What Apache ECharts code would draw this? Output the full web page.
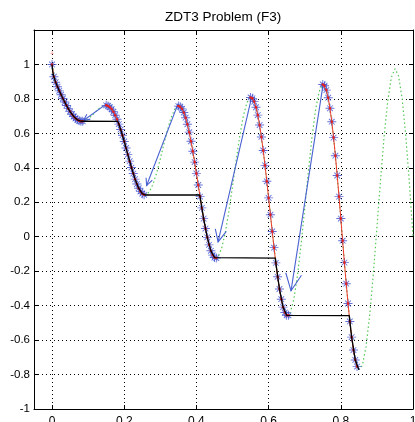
<!DOCTYPE html>
<html>
<head>
<meta charset="utf-8">
<title>ZDT3 Problem (F3)</title>
<script src="https://cdn.jsdelivr.net/npm/echarts@6/dist/echarts.min.js"></script>
<style>
    html, body { margin: 0; padding: 0; background: #fff; }
    #chart { width: 415px; height: 422px; }
</style>
</head>
<body>
<div id="chart"></div>
<script>
    // ZDT3 curve (green dotted), sampled every 0.01
    var curveX = [0, 0.01, 0.02, 0.03, 0.04, 0.05, 0.06, 0.07, 0.08, 0.09,
        0.1, 0.11, 0.12, 0.13, 0.14, 0.15, 0.16, 0.17, 0.18, 0.19,
        0.2, 0.21, 0.22, 0.23, 0.24, 0.25, 0.26, 0.27, 0.28, 0.29,
        0.3, 0.31, 0.32, 0.33, 0.34, 0.35, 0.36, 0.37, 0.38, 0.39,
        0.4, 0.41, 0.42, 0.43, 0.44, 0.45, 0.46, 0.47, 0.48, 0.49,
        0.5, 0.51, 0.52, 0.53, 0.54, 0.55, 0.56, 0.57, 0.58, 0.59,
        0.6, 0.61, 0.62, 0.63, 0.64, 0.65, 0.66, 0.67, 0.68, 0.69,
        0.7, 0.71, 0.72, 0.73, 0.74, 0.75, 0.76, 0.77, 0.78, 0.79,
        0.8, 0.81, 0.82, 0.83, 0.84, 0.85, 0.86, 0.87, 0.88, 0.89,
        0.9, 0.91, 0.92, 0.93, 0.94, 0.95, 0.96, 0.97, 0.98, 0.99, 1];
    var curveY = [1, 0.8969, 0.8468, 0.8025, 0.7620, 0.7264, 0.6980, 0.6788, 0.6702, 0.6722,
        0.6838, 0.7023, 0.7241, 0.7446, 0.7590, 0.7627, 0.7522, 0.7252, 0.6815, 0.6228,
        0.5528, 0.4768, 0.4017, 0.3343, 0.2818, 0.25, 0.2428, 0.2620, 0.3062, 0.3719,
        0.4523, 0.5390, 0.6224, 0.6925, 0.7403, 0.7584, 0.7424, 0.6910, 0.6070, 0.4960,
        0.3675, 0.2330, 0.1050, -0.0036, -0.0818, -0.1208, -0.1157, -0.0658, 0.0251, 0.1486,
        0.2929, 0.4435, 0.5846, 0.7008, 0.7788, 0.8084, 0.7843, 0.7061, 0.5793, 0.4142,
        0.2254, 0.0305, -0.1518, -0.3034, -0.4087, -0.4562, -0.4401, -0.3605, -0.2243, -0.0439,
        0.1633, 0.3768, 0.5747, 0.7362, 0.8436, 0.8840, 0.8510, 0.7454, 0.5753, 0.3553,
        0.1056, -0.1503, -0.3875, -0.5825, -0.7154, -0.7720, -0.7453, -0.6365, -0.4554, -0.2184,
        0.0513, 0.3273, 0.5816, 0.7880, 0.9245, 0.9753, 0.9333, 0.7998, 0.5861, 0.3109, 0];

    // solutions (blue stars, joined by the red line), one array per branch
    var solX1 = [0, 0.005, 0.01, 0.015, 0.02, 0.025, 0.03, 0.035, 0.04, 0.045, 0.05, 0.055, 0.06, 0.065, 0.07, 0.075, 0.08, 0.085];
    var solY1 = [1, 0.9285, 0.8969, 0.8707, 0.8468, 0.8242, 0.8025, 0.7817, 0.7620, 0.7435, 0.7264, 0.7112, 0.6980, 0.6871, 0.6788, 0.6731, 0.6702, 0.6699];
    var solX2 = [0.15, 0.155, 0.16, 0.165, 0.17, 0.175, 0.18, 0.185, 0.19, 0.195, 0.2, 0.205, 0.21, 0.215, 0.22, 0.225, 0.23, 0.235, 0.24, 0.245, 0.25, 0.255];
    var solY2 = [0.7627, 0.7594, 0.7522, 0.7408, 0.7252, 0.7054, 0.6815, 0.6539, 0.6228, 0.5889, 0.5528, 0.5151, 0.4768, 0.4387, 0.4017, 0.3666, 0.3343, 0.3058, 0.2818, 0.2630, 0.25, 0.2431];
    var solX3 = [0.35, 0.355, 0.36, 0.365, 0.37, 0.375, 0.38, 0.385, 0.39, 0.395, 0.4, 0.405, 0.41, 0.415, 0.42, 0.425, 0.43, 0.435, 0.44, 0.445, 0.45, 0.455];
    var solY3 = [0.7584, 0.7548, 0.7424, 0.7210, 0.6910, 0.6528, 0.6070, 0.5543, 0.4960, 0.4333, 0.3675, 0.3003, 0.2330, 0.1674, 0.1050, 0.0476, -0.0036, -0.0471, -0.0818, -0.1066, -0.1208, -0.1239];
    var solX4 = [0.55, 0.555, 0.56, 0.565, 0.57, 0.575, 0.58, 0.585, 0.59, 0.595, 0.6, 0.605, 0.61, 0.615, 0.62, 0.625, 0.63, 0.635, 0.64, 0.645, 0.65, 0.655];
    var solY4 = [0.8084, 0.8032, 0.7843, 0.7517, 0.7061, 0.6483, 0.5793, 0.5007, 0.4142, 0.3217, 0.2254, 0.1276, 0.0305, -0.0634, -0.1518, -0.2325, -0.3034, -0.3627, -0.4087, -0.4402, -0.4562, -0.4562];
    var solX5 = [0.75, 0.755, 0.76, 0.765, 0.77, 0.775, 0.78, 0.785, 0.79, 0.795, 0.8, 0.805, 0.81, 0.815, 0.82, 0.825, 0.83, 0.835, 0.84, 0.845];
    var solY5 = [0.8840, 0.8768, 0.8510, 0.8070, 0.7454, 0.6677, 0.5753, 0.4704, 0.3553, 0.2327, 0.1056, -0.0231, -0.1503, -0.2728, -0.3875, -0.4917, -0.5825, -0.6578, -0.7154, -0.7538];

    // Pareto front with its horizontal steps (black)
    var frontX = [0, 0.002, 0.005, 0.01, 0.02, 0.03, 0.04, 0.05, 0.06, 0.07, 0.08, 0.083,
        0.1822, 0.185, 0.19, 0.2, 0.21, 0.22, 0.23, 0.24, 0.25, 0.2578,
        0.4093, 0.415, 0.42, 0.43, 0.44, 0.45, 0.4539,
        0.6184, 0.62, 0.63, 0.64, 0.65, 0.6525,
        0.8233, 0.83, 0.84, 0.85, 0.8518];
    var frontY = [1, 0.9552, 0.9285, 0.8969, 0.8468, 0.8025, 0.7620, 0.7264, 0.6980, 0.6788, 0.6702, 0.6697,
        0.6697, 0.6539, 0.6228, 0.5528, 0.4768, 0.4017, 0.3343, 0.2818, 0.25, 0.2422,
        0.2422, 0.1674, 0.1050, -0.0036, -0.0818, -0.1208, -0.1242,
        -0.1242, -0.1518, -0.3034, -0.4087, -0.4562, -0.4583,
        -0.4583, -0.5825, -0.7154, -0.7720, -0.7733];

    // arrows: [fromX, fromY, toX, toY]
    var arrows = [
        [0.15, 0.77, 0.087, 0.675],
        [0.349, 0.771, 0.262, 0.297],
        [0.553, 0.81, 0.46, -0.03],
        [0.751, 0.884, 0.662, -0.314]
    ];
    var startPoint = [0, 1.066];

    var xTicks = [0, 0.2, 0.4, 0.6, 0.8, 1];

    function pairs(xs, ys) {
        var out = [];
        for (var i = 0; i < xs.length; i++) out.push([xs[i], ys[i]]);
        return out;
    }

    var branches = [[solX1, solY1], [solX2, solY2], [solX3, solY3], [solX4, solY4], [solX5, solY5]];
    var stars = [];
    var redLine = [];
    branches.forEach(function (b, i) {
        var p = pairs(b[0], b[1]);
        stars = stars.concat(p);
        if (i > 0) redLine.push([null, null]);
        redLine = redLine.concat(p);
    });

    var starPath = 'path://M0,9L20,9L20,11L0,11Z M9,0L11,0L11,20L9,20Z M3,4.4L4.4,3L17,15.6L15.6,17Z M15.6,3L17,4.4L4.4,17L3,15.6Z';
    var plusPath = 'path://M0,9L20,9L20,11L0,11Z M9,0L11,0L11,20L9,20Z';

    var fmt = function (v) {
        if (v > 1.05) return '';
        return String(+v.toFixed(1));
    };

    var myChart = echarts.init(document.getElementById('chart'));
    var option = {
        animation: false,
        backgroundColor: '#fff',
        title: {
            text: 'ZDT3 Problem (F3)',
            left: 160,
            top: 5,
            textStyle: {
                fontFamily: 'Liberation Sans',
                fontSize: 13.5,
                fontWeight: 'normal',
                color: '#000'
            }
        },
        grid: {
            left: 34,
            right: 2,
            top: 30,
            bottom: 13,
            containLabel: false,
            outerBoundsMode: 'none'
        },
        xAxis: [{
            type: 'value',
            min: -0.05,
            max: 1,
            position: 'bottom',
            axisLine: { onZero: false, lineStyle: { color: '#000', width: 1 } },
            axisTick: { inside: true, length: 4, customValues: xTicks, lineStyle: { color: '#000' } },
            axisLabel: { customValues: xTicks, formatter: fmt, color: '#000', fontFamily: 'Liberation Sans', fontSize: 12, margin: 7, hideOverlap: false },
            splitLine: { show: true, lineStyle: { color: '#000', type: [1, 3], width: 1 } }
        }, {
            type: 'value',
            min: -0.05,
            max: 1,
            position: 'top',
            axisLine: { onZero: false, lineStyle: { color: '#000', width: 1 } },
            axisTick: { inside: true, length: 4, customValues: xTicks, lineStyle: { color: '#000' } },
            axisLabel: { show: false },
            splitLine: { show: false }
        }],
        yAxis: [{
            type: 'value',
            min: -1,
            max: 1.2,
            interval: 0.2,
            position: 'left',
            axisLine: { show: true, onZero: false, lineStyle: { color: '#000', width: 1 } },
            axisTick: { show: true, inside: true, length: 4, lineStyle: { color: '#000' } },
            axisLabel: { formatter: fmt, color: '#000', fontFamily: 'Liberation Sans', fontSize: 11.5, margin: 4 },
            splitLine: { show: true, lineStyle: { color: '#000', type: [1, 3], width: 1 } }
        }, {
            type: 'value',
            min: -1,
            max: 1.2,
            interval: 0.2,
            position: 'right',
            axisLine: { show: true, onZero: false, lineStyle: { color: '#000', width: 1 } },
            axisTick: { show: true, inside: true, length: 4, lineStyle: { color: '#000' } },
            axisLabel: { show: false },
            splitLine: { show: false }
        }],
        series: [{
            name: 'ZDT3',
            type: 'line',
            data: pairs(curveX, curveY),
            showSymbol: false,
            lineStyle: { color: '#55c855', width: 1.2, type: [1.5, 2.5] },
            z: 1
        }, {
            name: 'moves',
            type: 'custom',
            data: arrows,
            encode: { x: [0, 2], y: [1, 3] },
            renderItem: function (params, api) {
                var p0 = api.coord([api.value(0), api.value(1)]);
                var p1 = api.coord([api.value(2), api.value(3)]);
                var dx = p1[0] - p0[0];
                var dy = p1[1] - p0[1];
                var len = Math.sqrt(dx * dx + dy * dy);
                var ang = Math.atan2(dy, dx);
                var h = Math.max(7, len * 0.09);
                var a = 25 * Math.PI / 180;
                var w1 = [p1[0] - h * Math.cos(ang - a), p1[1] - h * Math.sin(ang - a)];
                var w2 = [p1[0] - h * Math.cos(ang + a), p1[1] - h * Math.sin(ang + a)];
                var st = { stroke: '#4a62d2', lineWidth: 1.1, fill: null };
                return {
                    type: 'group',
                    children: [
                        { type: 'line', shape: { x1: p0[0], y1: p0[1], x2: p1[0], y2: p1[1] }, style: st },
                        { type: 'polyline', shape: { points: [w1, p1, w2] }, style: st }
                    ]
                };
            },
            z: 2
        }, {
            name: 'solutions',
            type: 'scatter',
            data: stars,
            symbol: starPath,
            symbolSize: 9,
            itemStyle: { color: '#3a4ed0', opacity: 0.8 },
            z: 3
        }, {
            name: 'solution path',
            type: 'line',
            data: redLine,
            connectNulls: false,
            showSymbol: true,
            symbol: 'circle',
            symbolSize: 2.5,
            itemStyle: { color: '#e8201c' },
            lineStyle: { color: '#f03a2a', width: 1 },
            z: 4
        }, {
            name: 'front',
            type: 'line',
            data: pairs(frontX, frontY),
            showSymbol: false,
            lineStyle: { color: '#000', width: 1.3 },
            z: 5
        }, {
            name: 'start',
            type: 'scatter',
            data: [startPoint],
            symbol: plusPath,
            symbolSize: 4,
            itemStyle: { color: '#e8201c' },
            z: 4
        }]
    };
    myChart.setOption(option);
</script>
</body>
</html>
